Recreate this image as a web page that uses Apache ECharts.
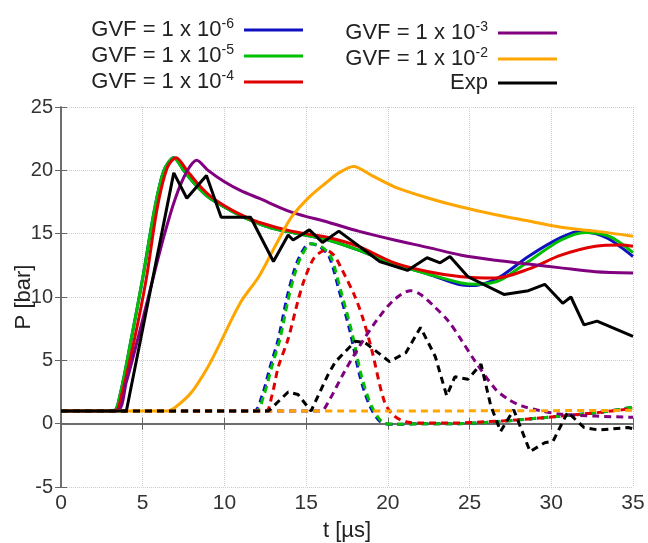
<!DOCTYPE html>
<html>
<head>
<meta charset="utf-8">
<script src="https://cdn.jsdelivr.net/npm/echarts@6/dist/echarts.min.js"></script>
<style>
  html, body { margin: 0; padding: 0; background: #fff; }
  #chart { width: 648px; height: 543px; }
</style>
</head>
<body>
<div id="chart"></div>
<script>
// legend names (superscript built in the formatter)
var names = ['GVF = 1 x 10^-6', 'GVF = 1 x 10^-5', 'GVF = 1 x 10^-4', 'GVF = 1 x 10^-3', 'GVF = 1 x 10^-2', 'Exp'];
var colors = ['#1010c0', '#00c000', '#e00000', '#800080', '#ffa500', '#000000'];
var xTicks = [0, 5, 10, 15, 20, 25, 30, 35];
var yTicks = [-5, 0, 5, 10, 15, 20, 25];

// solid curves: [t (us), P (bar)]
var solidBlue = [[0,1],[3.2,1],[3.6,2.2],[4.3,6.7],[5.0,11.5],[5.75,17.1],[6.3,20.0],[6.9,21.0],[7.5,20.0],[8.2,18.9],[9.0,17.9],[10,17.1],[11,16.4],[12.1,15.8],[13,15.4],[14.1,15.1],[16.35,14.5],[18.2,13.7],[20.4,12.6],[22.5,11.8],[24.3,11.0],[25.2,10.9],[26.2,11.2],[27.0,11.7],[28.6,13.2],[30.6,14.7],[31.8,15.2],[32.7,15.0],[33.5,14.6],[34.3,13.9],[35,13.2]];
var solidGreen = [[0,1],[3.2,1],[3.6,2.2],[4.3,6.7],[5.0,11.5],[5.75,17.1],[6.3,20.0],[6.9,21.0],[7.5,20.0],[8.2,18.9],[9.0,17.9],[10,17.1],[11,16.4],[12.1,15.8],[13,15.4],[14.1,15.1],[16.35,14.5],[18.2,13.7],[20.4,12.6],[22.5,11.8],[24.5,11.1],[25.4,11.0],[26.3,11.1],[27.0,11.4],[28.6,12.8],[30.6,14.5],[32.1,15.1],[33.0,15.0],[33.7,14.7],[34.4,14.1],[35,13.5]];
var solidRed = [[0,1],[3.3,1],[3.7,2.2],[4.5,6.7],[5.2,11.3],[5.9,17.1],[6.5,20.2],[7.05,21.0],[7.7,20.0],[8.4,18.9],[9.1,18.0],[10,17.2],[11,16.5],[12.1,15.9],[14.1,15.2],[16.35,14.7],[18.2,14.0],[20.4,12.7],[22.5,12.0],[24.5,11.6],[26.6,11.5],[28.6,12.2],[30.6,13.3],[32.7,14.0],[34.3,14.1],[35,14.0]];
var solidPurple = [[0,1],[3.4,1],[4.0,3.3],[4.7,6.7],[5.5,10.8],[6.3,14.8],[7.0,17.8],[7.7,19.9],[8.3,20.8],[9.0,20.0],[10,19.1],[11,18.4],[12.1,17.8],[14.1,16.7],[16.35,15.9],[18.2,15.2],[20.4,14.5],[22.5,13.9],[24.5,13.3],[26.6,12.9],[28.6,12.6],[30.6,12.3],[32.7,12.0],[35,11.9]];
var solidOrange = [[0,1],[6.5,1],[7.0,1.3],[8.0,2.5],[9.0,4.5],[9.6,6.0],[11.0,9.6],[12.1,11.6],[13.1,14.0],[14.1,16.3],[15.2,17.9],[16.2,19.0],[17.0,19.8],[17.9,20.3],[19.0,19.6],[20.4,18.7],[22.5,17.8],[24.5,17.1],[26.6,16.5],[28.6,16.0],[30.6,15.5],[32.7,15.2],[35,14.8]];
var solidExp = [[0,1],[4.0,1],[6.9,19.8],[7.7,17.8],[8.9,19.6],[9.8,16.3],[11.6,16.3],[13.0,12.8],[13.9,14.9],[14.2,14.5],[15.2,15.3],[16.0,14.3],[17.0,15.2],[19.5,12.8],[21.2,12.1],[22.4,13.1],[23.2,12.7],[23.8,13.2],[24.9,11.6],[27.1,10.2],[28.6,10.5],[29.6,11.0],[30.7,9.5],[31.2,10.0],[32.0,7.8],[32.8,8.1],[35,6.9]];

// dashed curves
var dashBlue = [[0,1],[11.8,1],[12.3,2.2],[12.8,4.5],[13.3,6.7],[13.8,9.8],[14.2,11.8],[14.6,13.2],[15.2,14.2],[15.8,14.0],[16.4,13.2],[17.0,10.6],[17.7,7.2],[18.3,3.7],[18.9,1.4],[19.6,0.1],[20.5,-0.05],[22,0],[24,0],[26,0.1],[28,0.3],[30.6,0.6],[33,0.9],[35,1.3]];
var dashGreen = [[0,1],[11.9,1],[12.4,2.2],[12.9,4.5],[13.4,6.7],[13.9,9.8],[14.3,11.8],[14.7,13.2],[15.3,14.2],[15.9,14.0],[16.5,13.2],[17.1,10.6],[17.8,7.2],[18.4,3.7],[19.0,1.4],[19.7,0.1],[20.5,-0.05],[22,0],[24,0],[26,0.1],[28,0.3],[30.6,0.6],[33,0.9],[35,1.3]];
var dashRed = [[0,1],[12.5,1],[12.9,2.2],[13.3,4.5],[13.9,6.7],[14.5,9.7],[14.9,11.4],[15.5,13.1],[16.2,13.7],[16.7,13.3],[17.1,12.4],[18.0,10.0],[18.5,8.2],[19.0,5.9],[19.8,1.7],[20.4,0.6],[21.1,0.15],[22,0.05],[24,0.05],[26,0.15],[28,0.3],[30.6,0.6],[33,0.9],[35,1.2]];
var dashPurple = [[0,1],[15.9,1],[16.35,1.7],[17.3,4.0],[18.4,6.4],[19.4,8.3],[20.4,9.8],[21.4,10.5],[22.0,10.2],[22.8,9.3],[23.7,8.1],[24.5,6.6],[25.3,5.0],[26.6,2.7],[27.4,1.9],[28.2,1.4],[29.4,1.0],[30.6,0.75],[32.7,0.6],[35,0.5]];
var dashOrange = [[0,1],[20,1],[35,1.05]];
var dashExp = [[0,1],[12.7,1],[13.9,2.5],[14.5,2.3],[15.3,1.0],[16.35,3.9],[16.8,4.9],[18.0,6.5],[18.6,6.4],[20.1,4.9],[21.1,5.6],[22.0,7.6],[22.9,5.3],[23.6,2.2],[24.1,3.7],[24.9,3.5],[25.7,4.7],[26.3,1.4],[26.9,-0.6],[27.7,1.1],[28.7,-2.2],[29.6,-1.5],[30.1,-1.4],[31.0,0.9],[32.0,-0.3],[32.9,-0.5],[34.7,-0.3],[35,-0.4]];

var solid = [solidBlue, solidGreen, solidRed, solidPurple, solidOrange, solidExp];
var dashed = [dashBlue, dashGreen, dashRed, dashPurple, dashOrange, dashExp];

var chart = echarts.init(document.getElementById('chart'));

var font = 'Liberation Sans, Arial, sans-serif';

function legendFmt(name) {
    var p = name.split('^');
    if (p.length < 2) return '{b|' + name + '}{g|}';
    return '{b|' + p[0] + '}{s|' + p[1] + '}{g|}';
}

var legendText = {
    color: '#222',
    fontFamily: font,
    rich: {
        b: { fontSize: 22, fontFamily: font, color: '#222', lineHeight: 26 },
        s: { fontSize: 14, fontFamily: font, color: '#222', verticalAlign: 'top', lineHeight: 14 },
        g: { width: 5 }
    }
};

var series = [];
solid.forEach(function (d, i) {
    series.push({
        name: names[i], type: 'line', data: d, symbol: 'none',
        smooth: i === 5 ? false : 0.3,
        lineStyle: { color: colors[i], width: 3 }, itemStyle: { color: colors[i] },
        z: 3 + i
    });
});
dashed.forEach(function (d, i) {
    series.push({
        name: names[i], type: 'line', data: d, symbol: 'none',
        smooth: i === 5 ? false : 0.3,
        lineStyle: { color: colors[i], width: 3, type: [7, 5] }, itemStyle: { color: colors[i] },
        z: 3 + i
    });
});

var axisLine = { show: true, lineStyle: { color: '#666', width: 1.5 } };

var option = {
    animation: false,
    backgroundColor: '#fff',
    grid: { left: 61, right: 15, top: 107, bottom: 56, outerBoundsMode: 'none', containLabel: false },
    legend: [{
        data: names.slice(0, 3), orient: 'vertical', align: 'right', icon: 'rect',
        right: 340, top: 12, itemWidth: 59, itemHeight: 3, itemGap: 2,
        formatter: legendFmt, textStyle: legendText
    }, {
        data: names.slice(3), orient: 'vertical', align: 'right', icon: 'rect',
        right: 86, top: 15, itemWidth: 59, itemHeight: 3, itemGap: 2,
        formatter: legendFmt, textStyle: legendText
    }],
    xAxis: [{
        type: 'value', min: xTicks[0], max: xTicks[xTicks.length - 1], interval: 5,
        name: 't [µs]', nameLocation: 'middle', nameGap: 33, nameMoveOverlap: false,
        nameTextStyle: { fontSize: 22, fontFamily: font, color: '#222' },
        axisLine: axisLine,
        axisTick: { show: true, inside: true, length: 6, lineStyle: { color: '#666' } },
        axisLabel: { fontSize: 21, fontFamily: font, color: '#333', margin: 6 },
        splitLine: { show: true, lineStyle: { color: '#ccc', type: 'dotted', width: 1 } }
    }, {
        type: 'value', position: 'top', min: 0, max: 35, interval: 5,
        axisLine: axisLine,
        axisTick: { show: true, inside: true, length: 6, lineStyle: { color: '#666' } },
        axisLabel: { show: false }, splitLine: { show: false }
    }],
    yAxis: [{
        type: 'value', min: yTicks[0], max: yTicks[yTicks.length - 1], interval: 5,
        name: 'P [bar]', nameLocation: 'middle', nameGap: 26, nameMoveOverlap: false,
        nameTextStyle: { fontSize: 22, fontFamily: font, color: '#222' },
        axisLine: axisLine,
        axisTick: { show: true, inside: true, length: 6, lineStyle: { color: '#666' } },
        axisLabel: { fontSize: 20, fontFamily: font, color: '#333', margin: 8 },
        splitLine: { show: true, lineStyle: { color: '#ccc', type: 'dotted', width: 1 } }
    }, {
        type: 'value', position: 'right', min: -5, max: 25, interval: 5,
        axisLine: axisLine,
        axisTick: { show: true, inside: true, length: 6, lineStyle: { color: '#666' } },
        axisLabel: { show: false }, splitLine: { show: false }
    }],
    series: series
};

chart.setOption(option);
</script>
</body>
</html>
